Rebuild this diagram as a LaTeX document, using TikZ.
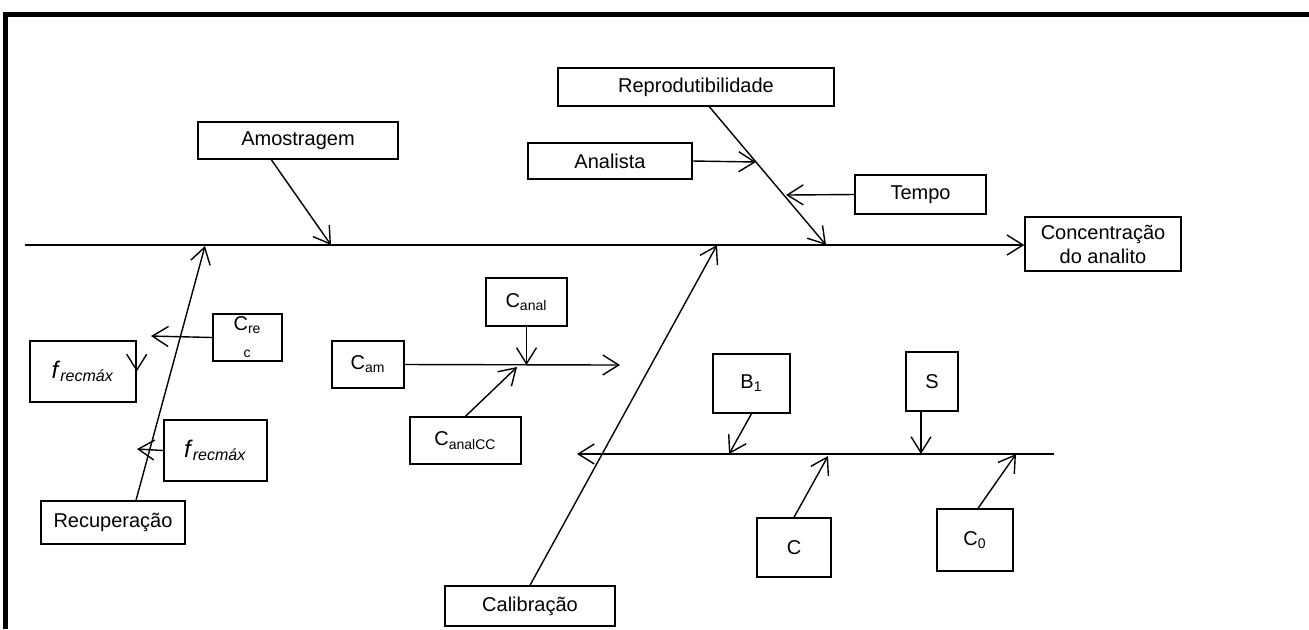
\documentclass[tikz,border=0pt]{standalone}
\usepackage{fontspec}
\setmainfont{Liberation Sans}
\usetikzlibrary{arrows.meta}
\tikzset{
  >={Straight Barb[length=8pt,width=10pt]},
  bx/.style={rectangle, draw, line width=0.7pt, inner sep=0pt, align=center, font=\fontsize{10}{12}\selectfont},
  bxf/.style={bx, font=\fontsize{12}{14}\selectfont},
  ar/.style={->, line width=0.7pt},
  brd/.style={line width=2.5pt}
}

\begin{document}
\begin{tikzpicture}[x=0.5pt, y=-0.5pt]
    \useasboundingbox (0,0) rectangle (1309,629);

    % === Frame ===
    \draw[brd] (3,14.8) -- (1309,14.8);
    \draw[brd] (5,12.3) -- (5,629);

    % === Boxes ===
    \node[bx, minimum width=100pt, minimum height=18.5pt] (amo) at (298,140.5) {Amostragem};
    \node[bx, minimum width=138pt, minimum height=19pt] (rep) at (696,87) {Reprodutibilidade};
    \node[bx, minimum width=82pt, minimum height=18pt] (ana) at (610,161) {Analista};
    \node[bx, minimum width=65.5pt, minimum height=19.5pt] (tem) at (920.5,194.5) {Tempo};
    \node[bx, minimum width=78pt, minimum height=27pt] (conc) at (1103,244) {Concentração\\do analito};

    \node[bx, minimum width=34.5pt, minimum height=23.5pt] (crec) at (247.5,337.5) {C\textsubscript{re}\\\textsubscript{c}};
    \node[bxf, minimum width=53pt, minimum height=30.5pt] (frecA) at (83,371.5) {\textit{f}\textsubscript{\textit{recmáx}}};
    \node[bxf, minimum width=51.5pt, minimum height=30.5pt] (frecB) at (215.5,450.5) {\textit{f}\textsubscript{\textit{recmáx}}};
    \node[bx, minimum width=72pt, minimum height=21.5pt] (rec) at (113,522.5) {Recuperação};

    \node[bx, minimum width=36pt, minimum height=23.5pt] (cam) at (368,364.5) {C\textsubscript{am}};
    \node[bx, minimum width=40.5pt, minimum height=24pt] (canal) at (526.5,302) {C\textsubscript{anal}};
    \node[bx, minimum width=55.5pt, minimum height=23.5pt] (canalcc) at (465.5,440.5) {C\textsubscript{analCC}};

    \node[bx, minimum width=85pt, minimum height=20pt] (cal) at (530,606) {Calibração};
    \node[bx, minimum width=38.5pt, minimum height=29.5pt] (b1) at (751.5,383.5) {B\textsubscript{1}};
    \node[bx, minimum width=26pt, minimum height=29.5pt] (cS) at (932,381.5) {S};
    \node[bx, minimum width=37pt, minimum height=29.5pt] (cC) at (794,547.5) {C};
    \node[bx, minimum width=38pt, minimum height=31pt] (c0) at (975,540) {C\textsubscript{0}};

    % === Points on the spines ===
    \coordinate (spL) at (25,245);
    \coordinate (a1) at (331,245);
    \coordinate (r1) at (826,245);
    \coordinate (r2) at (756,162);
    \coordinate (r3) at (786,195);
    \coordinate (k1) at (717,245);
    \coordinate (q1) at (205,246);
    \coordinate (q2) at (151,336);
    \coordinate (q3) at (137,449);
    \coordinate (m1) at (620,365);
    \coordinate (m3) at (517,367);
    \coordinate (sbR) at (1054,454);
    \coordinate (sbL) at (577,454);
    \coordinate (s2) at (729,454);
    \coordinate (s4) at (828,456);
    \coordinate (s5) at (1016,454);

    % === Main spine ===
    \draw[ar] (spL) -- (spL -| conc.west);
    \draw[ar] ([xshift=37pt]amo.south west) -- (a1);
    \draw[ar] ([xshift=76pt]rep.south west) -- (r1);
    \draw[ar] (ana.east) -- (r2);
    \draw[ar] (tem.west) -- (r3);

    % === Recuperacao ===
    \draw[ar] ([xshift=11.5pt]rec.north) -- (q1);
    \draw[ar] (crec.west) -- (q2);
    \draw[ar] ([yshift=8pt]frecA.east) -- (frecA.east);
    \draw[ar] (frecB.west) -- (q3);

    % === Amostra ===
    \draw[ar] (cam.east) -- (m1);
    \draw[ar] (canal.south) -- (canal.south |- m1);
    \draw[ar] (canalcc.north) -- (m3);

    % === Calibracao ===
    \draw[ar] (cal.north) -- (k1);
    \draw[ar] (sbR) -- (sbL);
    \draw[ar] (b1.south) -- (s2);
    \draw[ar] ([xshift=-5.5pt]cS.south) -- ([xshift=-5.5pt]cS.south |- sbR);
    \draw[ar] (cC.north) -- (s4);
    \draw[ar] ([xshift=1.5pt]c0.north) -- (s5);

\end{tikzpicture}
\end{document}
